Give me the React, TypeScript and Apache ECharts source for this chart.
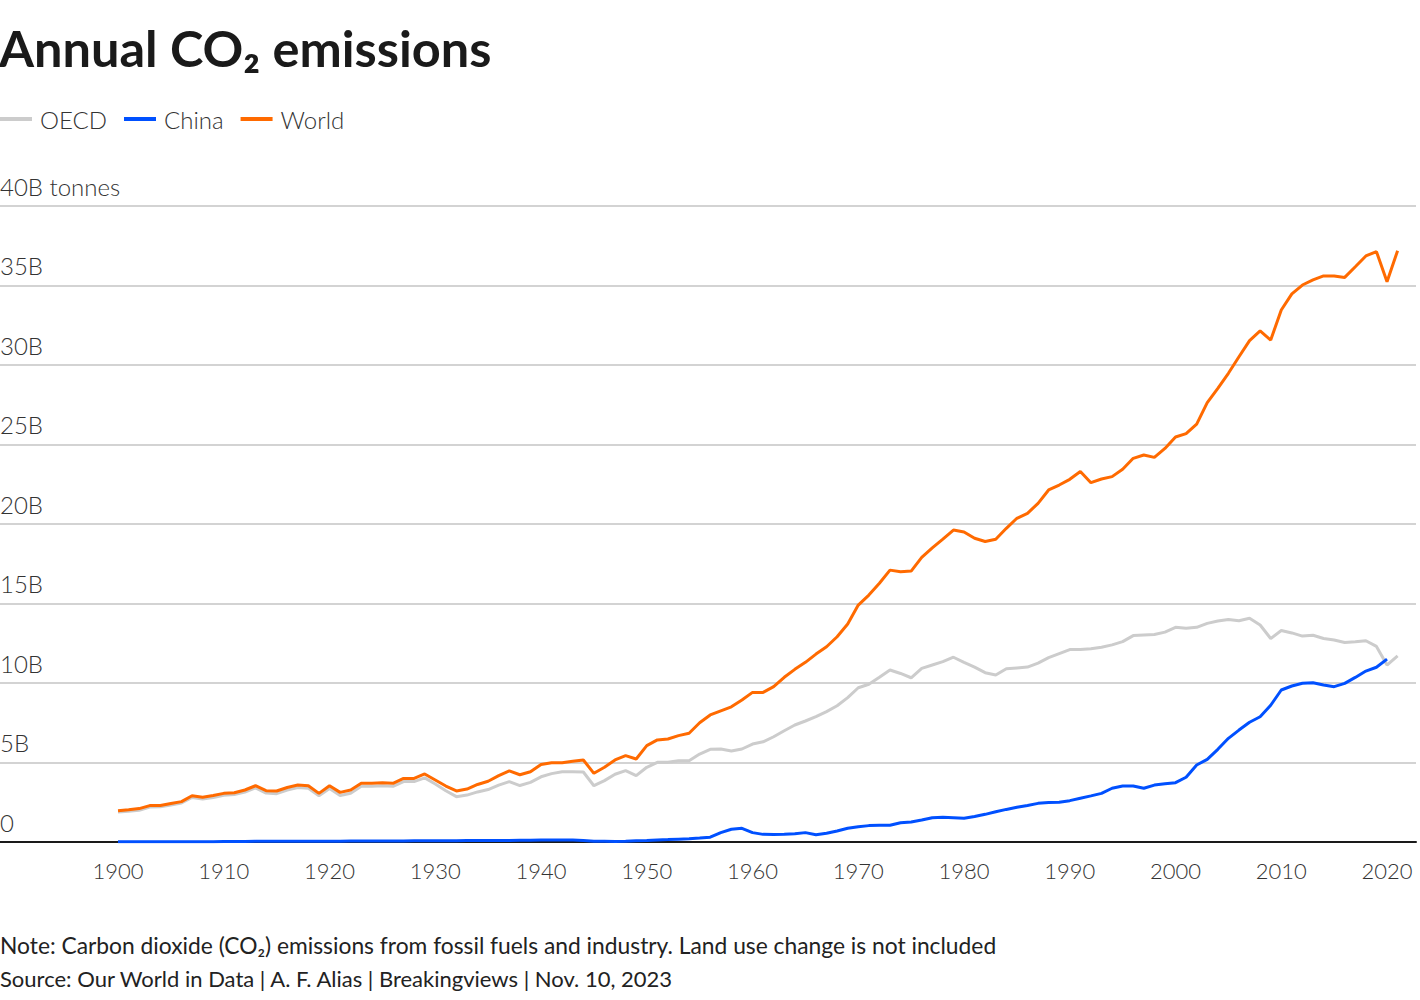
import React, { useEffect, useRef } from "react";
import * as echarts from "echarts";

const FIRST_YEAR = 1900;

const world = [
  1.97, 2.03, 2.1, 2.29, 2.3, 2.42, 2.54, 2.91, 2.81, 2.92,
  3.06, 3.1, 3.27, 3.54, 3.23, 3.21, 3.43, 3.58, 3.54, 3.06,
  3.54, 3.12, 3.27, 3.69, 3.69, 3.73, 3.69, 4.0, 4.0, 4.28,
  3.9, 3.52, 3.21, 3.33, 3.62, 3.82, 4.17, 4.47, 4.23, 4.42,
  4.88, 4.99, 4.99, 5.08, 5.16, 4.32, 4.7, 5.16, 5.43, 5.22,
  6.06, 6.42, 6.48, 6.69, 6.84, 7.5, 7.99, 8.25, 8.5, 8.93,
  9.41, 9.41, 9.77, 10.36, 10.86, 11.3, 11.82, 12.28, 12.91, 13.71,
  14.9, 15.53, 16.27, 17.1, 17.0, 17.04, 17.9, 18.5, 19.05, 19.62,
  19.5, 19.1, 18.9, 19.04, 19.73, 20.36, 20.67, 21.3, 22.14, 22.45,
  22.81, 23.3, 22.6, 22.83, 22.98, 23.44, 24.13, 24.34, 24.19, 24.75,
  25.47, 25.68, 26.28, 27.63, 28.53, 29.48, 30.52, 31.53, 32.14, 31.57,
  33.46, 34.47, 35.03, 35.35, 35.6, 35.6, 35.51, 36.18, 36.86, 37.13,
  35.24, 37.19,
];

const oecd = [
  1.88, 1.94, 2.0, 2.2, 2.21, 2.33, 2.45, 2.8, 2.7, 2.8,
  2.94, 2.98, 3.14, 3.4, 3.08, 3.04, 3.27, 3.42, 3.38, 2.9,
  3.37, 2.92, 3.07, 3.5, 3.5, 3.53, 3.5, 3.8, 3.8, 4.03,
  3.65, 3.22, 2.85, 2.95, 3.15, 3.3, 3.58, 3.8, 3.55, 3.75,
  4.1, 4.3, 4.42, 4.42, 4.4, 3.54, 3.86, 4.26, 4.49, 4.17,
  4.7, 5.01, 5.01, 5.11, 5.11, 5.53, 5.83, 5.85, 5.72, 5.85,
  6.16, 6.3, 6.62, 7.0, 7.36, 7.61, 7.88, 8.2, 8.57, 9.08,
  9.7, 9.92, 10.36, 10.82, 10.6, 10.33, 10.92, 11.13, 11.34, 11.62,
  11.3, 11.0, 10.65, 10.5, 10.9, 10.95, 11.0, 11.25, 11.6, 11.85,
  12.1, 12.1, 12.15, 12.25, 12.4, 12.6, 12.98, 13.02, 13.05, 13.2,
  13.5, 13.45, 13.5, 13.75, 13.9, 14.0, 13.92, 14.07, 13.65, 12.8,
  13.3, 13.15, 12.95, 13.0, 12.8, 12.7, 12.55, 12.6, 12.66, 12.3,
  11.13, 11.7,
];

const china = [
  0.01, 0.01, 0.01, 0.01, 0.01, 0.02, 0.02, 0.02, 0.02, 0.02,
  0.03, 0.03, 0.03, 0.04, 0.04, 0.04, 0.04, 0.05, 0.05, 0.05,
  0.05, 0.05, 0.06, 0.06, 0.06, 0.07, 0.07, 0.07, 0.08, 0.08,
  0.08, 0.08, 0.08, 0.09, 0.09, 0.09, 0.1, 0.1, 0.11, 0.11,
  0.12, 0.13, 0.13, 0.12, 0.1, 0.05, 0.04, 0.03, 0.05, 0.08,
  0.1, 0.13, 0.15, 0.18, 0.21, 0.25, 0.3, 0.59, 0.8, 0.86,
  0.59, 0.48, 0.47, 0.48, 0.52, 0.59, 0.46, 0.55, 0.69, 0.86,
  0.96, 1.03, 1.05, 1.05, 1.21, 1.26, 1.38, 1.53, 1.55, 1.53,
  1.49, 1.6, 1.74, 1.9, 2.05, 2.18, 2.3, 2.43, 2.48, 2.5,
  2.6, 2.75, 2.9, 3.06, 3.38, 3.52, 3.52, 3.38, 3.58, 3.66,
  3.73, 4.07, 4.84, 5.2, 5.83, 6.52, 7.04, 7.53, 7.88, 8.6,
  9.56, 9.81, 9.98, 10.02, 9.87, 9.77, 9.98, 10.35, 10.75, 10.99,
  11.5,
];

const xTickLabels = [1900, 1910, 1920, 1930, 1940, 1950, 1960, 1970, 1980, 1990, 2000, 2010, 2020];

const TITLE = "Annual CO\u2082 emissions";
const NOTE = "Note: Carbon dioxide (CO\u2082) emissions from fossil fuels and industry. Land use change is not included";
const SOURCE = "Source: Our World in Data | A. F. Alias | Breakingviews | Nov. 10, 2023";

const FONT = "Lato, 'Noto Sans', sans-serif";

const toPairs = (arr: number[]) => arr.map((v, i) => [FIRST_YEAR + i, v]);

export default function App() {
  const ref = useRef<HTMLDivElement>(null);

  useEffect(() => {
    document.body.style.margin = "0";
    const chart = echarts.init(ref.current!, null, { renderer: "svg" });
    chart.setOption({
      animation: false,
      backgroundColor: "#ffffff",
      textStyle: { fontFamily: FONT },
      title: {
        text: TITLE,
        left: -1,
        top: 22,
        padding: 0,
        textStyle: { fontFamily: FONT, fontSize: 50.5, fontWeight: "bold", color: "#1a1a1a" },
      },
      legend: {
        left: 0,
        top: 107,
        padding: 0,
        itemWidth: 32,
        itemHeight: 4,
        itemGap: 17,
        icon: "rect",
        textStyle: { fontFamily: FONT, fontSize: 24, color: "#333333", fontWeight: 300, padding: [0, 0, 0, 3] },
        data: ["OECD", "China", "World"],
      },
      grid: {
        left: 0,
        right: 4,
        top: 206,
        bottom: 158,
        containLabel: false,
        outerBoundsMode: "none",
      },
      xAxis: {
        type: "value",
        min: 1888.84,
        max: 2022.74,
        axisLine: { show: true, lineStyle: { color: "#1a1a1a", width: 2 } },
        axisTick: { show: false },
        splitLine: { show: false },
        axisLabel: {
          customValues: xTickLabels,
          formatter: (v: number) => String(v),
          fontFamily: FONT,
          fontSize: 22,
          color: "#333333",
          margin: 17,
          fontWeight: 300,
        },
      },
      yAxis: {
        type: "value",
        min: 0,
        max: 40,
        interval: 5,
        axisLine: { show: false },
        axisTick: { show: false },
        splitLine: { show: true, lineStyle: { color: "#c4c4c4", width: 1.5 } },
        axisLabel: {
          inside: true,
          margin: 0,
          align: "left",
          verticalAlign: "bottom",
          padding: [0, 0, 8, 0],
          fontFamily: FONT,
          fontSize: 24,
          color: "#333333",
          fontWeight: 300,
          formatter: (v: number) => (v === 40 ? "40B tonnes" : v === 0 ? "0" : v + "B"),
        },
      },
      series: [
        {
          name: "OECD",
          type: "line",
          data: toPairs(oecd),
          showSymbol: false,
          color: "#cccccc",
          lineStyle: { width: 3, color: "#cccccc" },
          z: 2,
        },
        {
          name: "China",
          type: "line",
          data: toPairs(china),
          showSymbol: false,
          color: "#0050ff",
          lineStyle: { width: 3, color: "#0050ff" },
          z: 3,
        },
        {
          name: "World",
          type: "line",
          data: toPairs(world),
          showSymbol: false,
          color: "#ff6a00",
          lineStyle: { width: 3, color: "#ff6a00" },
          z: 4,
        },
      ],
      graphic: [
        {
          type: "text",
          left: 0,
          top: 933,
          style: { text: NOTE, fontFamily: FONT, fontSize: 22.8, fill: "#222222" },
        },
        {
          type: "text",
          left: 0,
          top: 967,
          style: { text: SOURCE, fontFamily: FONT, fontSize: 22, fill: "#222222" },
        },
      ],
    });
    return () => chart.dispose();
  }, []);

  return (
    <div
      ref={ref}
      style={{ position: "fixed", left: 0, top: 0, width: 1420, height: 1000 }}
    />
  );
}
